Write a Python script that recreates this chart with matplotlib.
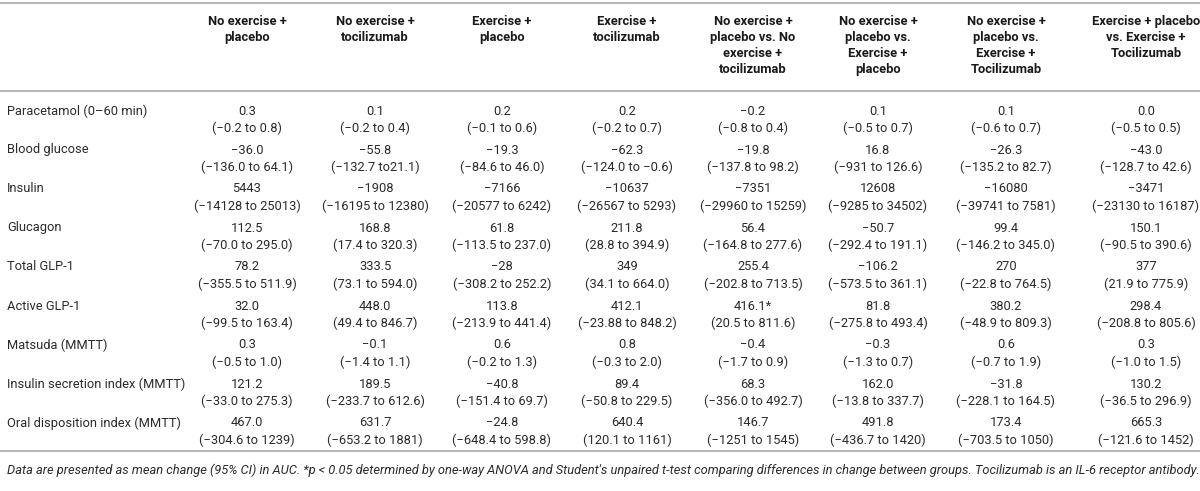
import matplotlib.pyplot as plt

plt.rcParams['font.family'] = ['Roboto', 'DejaVu Sans']

row_labels = ["Paracetamol (0–60 min)", "Blood glucose", "Insulin", "Glucagon",
              "Total GLP-1", "Active GLP-1", "Matsuda (MMTT)",
              "Insulin secretion index (MMTT)", "Oral disposition index (MMTT)"]

col_headers = ["No exercise +\nplacebo",
               "No exercise +\ntocilizumab",
               "Exercise +\nplacebo",
               "Exercise +\ntocilizumab",
               "No exercise +\nplacebo vs. No\nexercise +\ntocilizumab",
               "No exercise +\nplacebo vs.\nExercise +\nplacebo",
               "No exercise +\nplacebo vs.\nExercise +\nTocilizumab",
               "Exercise + placebo\nvs. Exercise +\nTocilizumab"]

# mean change per column
mean_noex_pla = ["0.3", "−36.0", "5443", "112.5", "78.2", "32.0", "0.3", "121.2", "467.0"]
mean_noex_toc = ["0.1", "−55.8", "−1908", "168.8", "333.5", "448.0", "−0.1", "189.5", "631.7"]
mean_ex_pla = ["0.2", "−19.3", "−7166", "61.8", "−28", "113.8", "0.6", "−40.8", "−24.8"]
mean_ex_toc = ["0.2", "−62.3", "−10637", "211.8", "349", "412.1", "0.8", "89.4", "640.4"]
mean_cmp1 = ["−0.2", "−19.8", "−7351", "56.4", "255.4", "416.1*", "−0.4", "68.3", "146.7"]
mean_cmp2 = ["0.1", "16.8", "12608", "−50.7", "−106.2", "81.8", "−0.3", "162.0", "491.8"]
mean_cmp3 = ["0.1", "−26.3", "−16080", "99.4", "270", "380.2", "0.6", "−31.8", "173.4"]
mean_cmp4 = ["0.0", "−43.0", "−3471", "150.1", "377", "298.4", "0.3", "130.2", "665.3"]

# 95% CI per column
ci_noex_pla = ["(−0.2 to 0.8)", "(−136.0 to 64.1)", "(−14128 to 25013)", "(−70.0 to 295.0)",
               "(−355.5 to 511.9)", "(−99.5 to 163.4)", "(−0.5 to 1.0)", "(−33.0 to 275.3)",
               "(−304.6 to 1239)"]
ci_noex_toc = ["(−0.2 to 0.4)", "(−132.7 to21.1)", "(−16195 to 12380)", "(17.4 to 320.3)",
               "(73.1 to 594.0)", "(49.4 to 846.7)", "(−1.4 to 1.1)", "(−233.7 to 612.6)",
               "(−653.2 to 1881)"]
ci_ex_pla = ["(−0.1 to 0.6)", "(−84.6 to 46.0)", "(−20577 to 6242)", "(−113.5 to 237.0)",
             "(−308.2 to 252.2)", "(−213.9 to 441.4)", "(−0.2 to 1.3)", "(−151.4 to 69.7)",
             "(−648.4 to 598.8)"]
ci_ex_toc = ["(−0.2 to 0.7)", "(−124.0 to −0.6)", "(−26567 to 5293)", "(28.8 to 394.9)",
             "(34.1 to 664.0)", "(−23.88 to 848.2)", "(−0.3 to 2.0)", "(−50.8 to 229.5)",
             "(120.1 to 1161)"]
ci_cmp1 = ["(−0.8 to 0.4)", "(−137.8 to 98.2)", "(−29960 to 15259)", "(−164.8 to 277.6)",
           "(−202.8 to 713.5)", "(20.5 to 811.6)", "(−1.7 to 0.9)", "(−356.0 to 492.7)",
           "(−1251 to 1545)"]
ci_cmp2 = ["(−0.5 to 0.7)", "(−931 to 126.6)", "(−9285 to 34502)", "(−292.4 to 191.1)",
           "(−573.5 to 361.1)", "(−275.8 to 493.4)", "(−1.3 to 0.7)", "(−13.8 to 337.7)",
           "(−436.7 to 1420)"]
ci_cmp3 = ["(−0.6 to 0.7)", "(−135.2 to 82.7)", "(−39741 to 7581)", "(−146.2 to 345.0)",
           "(−22.8 to 764.5)", "(−48.9 to 809.3)", "(−0.7 to 1.9)", "(−228.1 to 164.5)",
           "(−703.5 to 1050)"]
ci_cmp4 = ["(−0.5 to 0.5)", "(−128.7 to 42.6)", "(−23130 to 16187)", "(−90.5 to 390.6)",
           "(21.9 to 775.9)", "(−208.8 to 805.6)", "(−1.0 to 1.5)", "(−36.5 to 296.9)",
           "(−121.6 to 1452)"]

footnote = ("Data are presented as mean change (95% CI) in AUC. *p < 0.05 determined by one-way "
            "ANOVA and Student's unpaired t-test comparing differences in change between groups. "
            "Tocilizumab is an IL-6 receptor antibody.")

means = [mean_noex_pla, mean_noex_toc, mean_ex_pla, mean_ex_toc,
         mean_cmp1, mean_cmp2, mean_cmp3, mean_cmp4]
cis = [ci_noex_pla, ci_noex_toc, ci_ex_pla, ci_ex_toc,
       ci_cmp1, ci_cmp2, ci_cmp3, ci_cmp4]

# layout in pixel units
W, H = 1200, 491
col_x = [247, 375, 502, 627, 753, 878, 1006, 1146]
row_y0, row_step, line_gap = 111, 39, 17
fs = 9.3
txt_color = "#2b2b2b"
rule_color = "#b5b5b5"

fig = plt.figure(figsize=(W / 100, H / 100), dpi=100)
ax = fig.add_axes([0, 0, 1, 1])
ax.set_xlim(0, W)
ax.set_ylim(H, 0)
ax.axis("off")

for y in (3, 91, 451):
    ax.plot([0, W], [y, y], color=rule_color, lw=1.4, solid_capstyle="butt")

for x, head in zip(col_x, col_headers):
    ax.text(x, 15, head, ha="center", va="top", fontsize=fs, fontweight="bold",
            color="#1a1a1a", linespacing=1.3)

for i, label in enumerate(row_labels):
    y = row_y0 + i * row_step
    ax.text(7, y, label, ha="left", va="center", fontsize=fs, color=txt_color)
    for x, m, c in zip(col_x, means, cis):
        ax.text(x, y, m[i], ha="center", va="center", fontsize=fs, color=txt_color)
        ax.text(x, y + line_gap, c[i], ha="center", va="center", fontsize=fs, color=txt_color)

ax.text(7, 470, footnote, ha="left", va="center", fontsize=fs, style="italic", color=txt_color)

fig.savefig("out.png", dpi=100)
